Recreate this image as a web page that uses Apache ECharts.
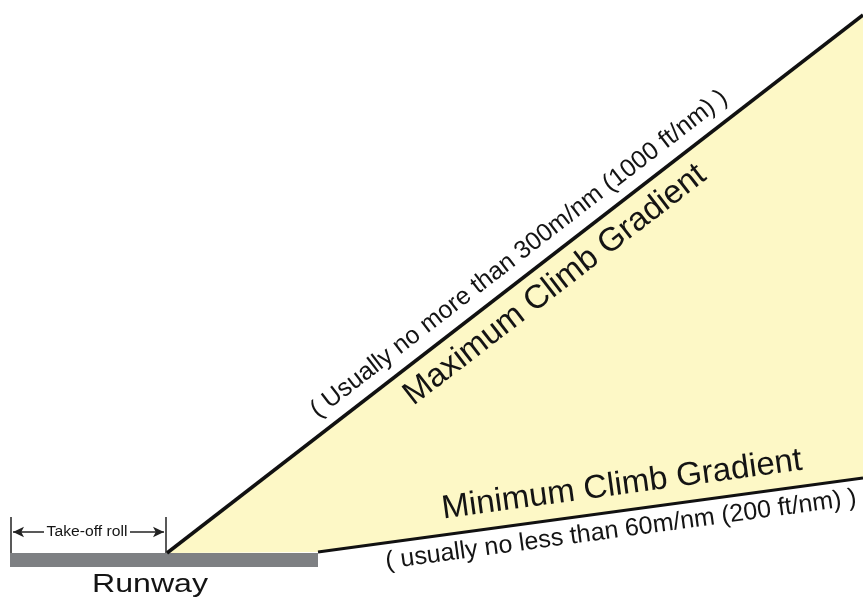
<!DOCTYPE html>
<html>
<head>
<meta charset="utf-8">
<script src="https://cdn.jsdelivr.net/npm/echarts@6/dist/echarts.min.js"></script>
<style>
html,body{margin:0;padding:0;background:#fff;}
#chart{width:863px;height:606px;}
</style>
</head>
<body>
<div id="chart"></div>
<script>
// Diagram values (distance along ground, height above page bottom)
const runwayExtent = [10, 318];          // runway start / end distance
const runwaySurface = [39, 53];          // runway bottom / top level
const takeoffRoll = [11, 166];           // take-off roll start / lift-off
const rollMarkerTop = 89;
const rollArrowLevel = 74;
const maxGradient = [[167, 53], [863, 591]];              // maximum climb gradient path
const minGradient = [[167, 53], [318, 54], [863, 128]];   // minimum climb gradient path
const labels = {
  maxNote: '( Usually no more than 300m/nm (1000 ft/nm) )',
  maxTitle: 'Maximum Climb Gradient',
  minTitle: 'Minimum Climb Gradient',
  minNote: '( usually no less than 60m/nm (200 ft/nm) )',
  runway: 'Runway',
  roll: 'Take-off roll'
};

const FONT = '"Liberation Sans", Arial, Helvetica, sans-serif';
const chart = echarts.init(document.getElementById('chart'));

const polygon = [maxGradient[0], maxGradient[1], minGradient[2], minGradient[1], minGradient[0]];

chart.setOption({
  animation: false,
  backgroundColor: '#ffffff',
  grid: {left: 0, right: 0, top: 0, bottom: 0},
  xAxis: {type: 'value', min: 0, max: 863, show: false},
  yAxis: {type: 'value', min: 0, max: 606, show: false},
  series: [
    {
      type: 'custom',
      data: [0],
      z: 1,
      renderItem: function (params, api) {
        const pts = polygon.map(p => api.coord(p));
        return {type: 'polygon', shape: {points: pts}, style: {fill: '#fdf8c6', stroke: null}};
      }
    },
    {
      type: 'custom',
      data: [0],
      z: 2,
      renderItem: function (params, api) {
        const a = api.coord([runwayExtent[0], runwaySurface[1]]);
        const b = api.coord([runwayExtent[1], runwaySurface[0]]);
        return {type: 'rect', shape: {x: a[0], y: a[1], width: b[0] - a[0], height: b[1] - a[1]}, style: {fill: '#7e8083'}};
      }
    },
    {
      type: 'line',
      data: maxGradient,
      symbol: 'none',
      z: 3,
      lineStyle: {color: '#111111', width: 3.5}
    },
    {
      type: 'line',
      data: minGradient.slice(1),
      symbol: 'none',
      z: 3,
      lineStyle: {color: '#111111', width: 3}
    },
    {
      type: 'line',
      data: [],
      markLine: {
        silent: true,
        animation: false,
        symbol: ['none', 'none'],
        label: {show: false},
        lineStyle: {color: '#222222', width: 1.5, type: 'solid'},
        data: [
          [{coord: [takeoffRoll[0], runwaySurface[1]]}, {coord: [takeoffRoll[0], rollMarkerTop]}],
          [{coord: [takeoffRoll[1], runwaySurface[1]]}, {coord: [takeoffRoll[1], rollMarkerTop]}],
          [{coord: [44, rollArrowLevel], symbol: 'none'}, {coord: [takeoffRoll[0] + 2, rollArrowLevel], symbol: 'arrow', symbolSize: [8, 11]}],
          [{coord: [130, rollArrowLevel], symbol: 'none'}, {coord: [takeoffRoll[1] - 2, rollArrowLevel], symbol: 'arrow', symbolSize: [8, 11]}]
        ]
      }
    }
  ]
});

// Angles of the gradient lines from the chart's own scales
function angleOf(p, q) {
  const a = chart.convertToPixel({gridIndex: 0}, p);
  const b = chart.convertToPixel({gridIndex: 0}, q);
  return Math.atan2(a[1] - b[1], b[0] - a[0]);
}
const maxRot = angleOf(maxGradient[0], maxGradient[1]);
const minRot = angleOf(minGradient[1], minGradient[2]);

function txt(text, x, y, size, rot, sx) {
  return {
    type: 'text', x: x, y: y, rotation: rot || 0, scaleX: sx || 1, z: 10,
    style: {text: text, x: 0, y: 0, fill: '#141414', font: size + 'px ' + FONT, align: 'center', verticalAlign: 'middle'}
  };
}

chart.setOption({
  graphic: [
    txt(labels.maxNote, 519, 254, 25, maxRot),
    txt(labels.maxTitle, 555, 285, 33, maxRot),
    txt(labels.minTitle, 622, 485, 33, minRot),
    txt(labels.minNote, 621, 530, 25, minRot),
    txt(labels.runway, 150, 585, 26, 0, 1.235),
    txt(labels.roll, 87, 532, 14, 0, 1.12)
  ]
});
</script>
</body>
</html>
